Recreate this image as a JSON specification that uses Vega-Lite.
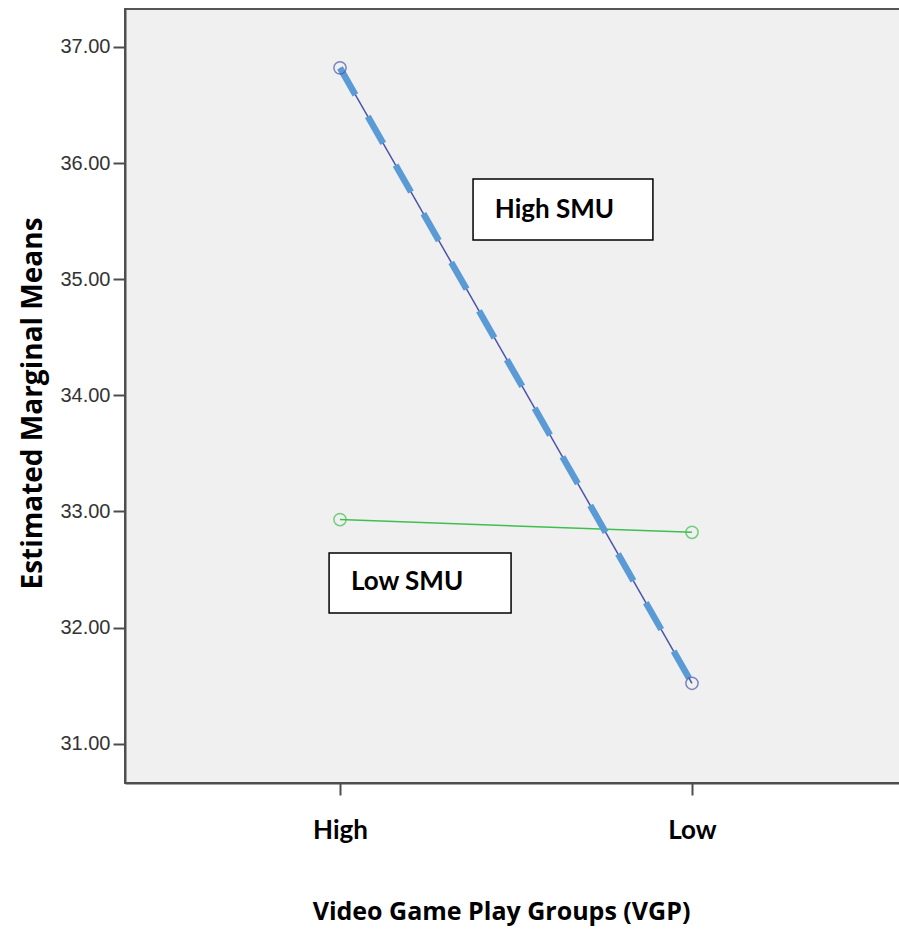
{
  "$schema": "https://vega.github.io/schema/vega-lite/v6.json",
  "width": 776,
  "height": 774,
  "autosize": {"type": "none"},
  "padding": {"left": 125, "top": 9, "right": 0, "bottom": 150},
  "background": "white",
  "config": {
    "view": {"fill": "#f0f0f0", "stroke": "#555555", "strokeWidth": 2},
    "axis": {
      "grid": false,
      "domainColor": "#4d4d4d",
      "domainWidth": 2,
      "tickColor": "#4d4d4d",
      "tickWidth": 2,
      "tickSize": 12
    }
  },
  "datasets": {
    "means": [
      {"smu": "High SMU", "vgp": "High", "vgp_code": 1, "mean": 36.82},
      {"smu": "High SMU", "vgp": "Low", "vgp_code": 2, "mean": 31.52},
      {"smu": "Low SMU", "vgp": "High", "vgp_code": 1, "mean": 32.93},
      {"smu": "Low SMU", "vgp": "Low", "vgp_code": 2, "mean": 32.82}
    ],
    "notes": [
      {"label": "High SMU", "x1": 1.378, "x2": 1.889, "y1": 35.863, "y2": 35.338, "tx": 1.44, "ty": 35.6},
      {"label": "Low SMU", "x1": 0.969, "x2": 1.486, "y1": 32.642, "y2": 32.125, "tx": 1.031, "ty": 32.392}
    ]
  },
  "layer": [
    {
      "data": {"name": "means"},
      "mark": {"type": "line", "strokeWidth": 1.5},
      "encoding": {
        "x": {
          "field": "vgp_code",
          "type": "quantitative",
          "scale": {"domain": [0.3892, 2.5938], "nice": false, "zero": false},
          "axis": {
            "values": [1, 2],
            "labelExpr": "datum.value == 1 ? 'High' : 'Low'",
            "labelFont": "Lato",
            "labelFontWeight": "bold",
            "labelFontSize": 26,
            "labelColor": "black",
            "labelPadding": 22,
            "title": "Video Game Play Groups (VGP)",
            "titleFont": "Open Sans",
            "titleFontWeight": "bold",
            "titleFontSize": 25,
            "titleColor": "black",
            "titlePadding": 56,
            "titleX": 376,
            "titleAnchor": "middle"
          }
        },
        "y": {
          "field": "mean",
          "type": "quantitative",
          "scale": {"domain": [30.661, 37.327], "nice": false, "zero": false},
          "axis": {
            "values": [31, 32, 33, 34, 35, 36, 37],
            "format": ".2f",
            "labelFont": "Liberation Sans",
            "labelFontSize": 20,
            "labelColor": "#333333",
            "labelPadding": 3,
            "title": "Estimated Marginal Means",
            "titleFont": "Open Sans",
            "titleFontWeight": "bold",
            "titleFontSize": 28,
            "titleColor": "black",
            "titlePadding": 12,
            "titleY": 394,
            "titleAnchor": "middle"
          }
        },
        "color": {
          "field": "smu",
          "type": "nominal",
          "scale": {"domain": ["High SMU", "Low SMU"], "range": ["#4b55a8", "#3fbf4f"]},
          "legend": null
        },
        "detail": {"field": "smu"}
      }
    },
    {
      "data": {"name": "means"},
      "transform": [{"filter": "datum.smu == 'High SMU'"}],
      "mark": {"type": "line", "strokeWidth": 6.5, "strokeDash": [31, 25], "color": "#5b9bd5"},
      "encoding": {
        "x": {"field": "vgp_code", "type": "quantitative"},
        "y": {"field": "mean", "type": "quantitative"}
      }
    },
    {
      "data": {"name": "means"},
      "mark": {"type": "point", "filled": false, "size": 150, "strokeWidth": 1.5},
      "encoding": {
        "x": {"field": "vgp_code", "type": "quantitative"},
        "y": {"field": "mean", "type": "quantitative"},
        "color": {"field": "smu", "type": "nominal", "legend": null}
      }
    },
    {
      "data": {"name": "notes"},
      "mark": {"type": "rect", "fill": "white", "stroke": "black", "strokeWidth": 1.5},
      "encoding": {
        "x": {"field": "x1", "type": "quantitative"},
        "x2": {"field": "x2"},
        "y": {"field": "y1", "type": "quantitative"},
        "y2": {"field": "y2"}
      }
    },
    {
      "data": {"name": "notes"},
      "mark": {"type": "text", "align": "left", "baseline": "middle", "font": "Lato", "fontWeight": "bold", "fontSize": 26, "color": "black"},
      "encoding": {
        "x": {"field": "tx", "type": "quantitative"},
        "y": {"field": "ty", "type": "quantitative"},
        "text": {"field": "label"}
      }
    }
  ]
}
